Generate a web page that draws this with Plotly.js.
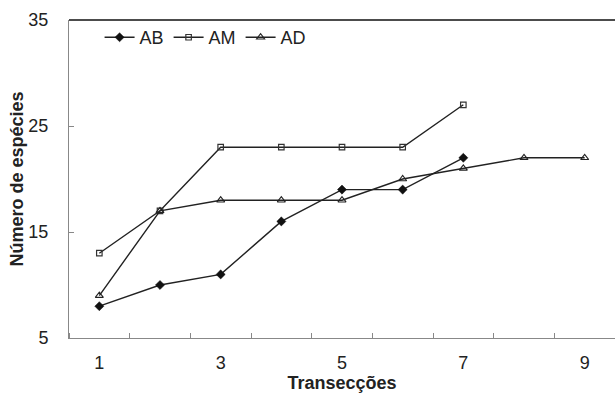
<!DOCTYPE html>
<html>
<head>
<meta charset="utf-8">
<script src="https://cdn.plot.ly/plotly-3.0.1.min.js"></script>
<style>html,body{margin:0;padding:0;background:#fff;}#chart{width:615px;height:395px;}</style>
</head>
<body>
<div id="chart"></div>
<script>
var transects = [1, 2, 3, 4, 5, 6, 7, 8, 9];
var seriesAB = [8, 10, 11, 16, 19, 19, 22];
var seriesAM = [13, 17, 23, 23, 23, 23, 27];
var seriesAD = [9, 17, 18, 18, 18, 20, 21, 22, 22];
var xTickVals = [1, 3, 5, 7, 9];
var yTickVals = [5, 15, 25, 35];

var lineColor = '#222222';
var traces = [
  {x: transects.slice(0, seriesAB.length), y: seriesAB, name: 'AB', mode: 'lines+markers',
   line: {color: lineColor, width: 1.4},
   marker: {symbol: 'diamond', size: 7, color: '#111111', line: {color: '#111111', width: 0.5}}},
  {x: transects.slice(0, seriesAM.length), y: seriesAM, name: 'AM', mode: 'lines+markers',
   line: {color: lineColor, width: 1.4},
   marker: {symbol: 'square-open', size: 5.5, color: '#333333', line: {width: 1.2}}},
  {x: transects.slice(0, seriesAD.length), y: seriesAD, name: 'AD', mode: 'lines+markers',
   line: {color: lineColor, width: 1.4},
   marker: {symbol: 'triangle-up-open', size: 7, color: '#222222', line: {width: 1.1}}}
];

var layout = {
  width: 615, height: 395,
  margin: {l: 69, r: 0, t: 20, b: 57},
  paper_bgcolor: '#fff', plot_bgcolor: '#fff',
  font: {family: 'Liberation Sans, Arial, sans-serif', color: '#222', size: 18},
  showlegend: true,
  legend: {orientation: 'h', x: 0.056, y: 1.003, xanchor: 'left', yanchor: 'top',
           font: {size: 18, color: '#222'}, bgcolor: 'rgba(0,0,0,0)', itemwidth: 30,
           tracegroupgap: 0},
  xaxis: {range: [0.5, 9.5], tickvals: xTickVals, ticktext: xTickVals.map(String),
          ticks: '', showgrid: false, zeroline: false, showline: true, linecolor: '#888', linewidth: 1,
          tickfont: {size: 18, color: '#222'}, ticklabelstandoff: 8,
          minor: {tick0: 0.5, dtick: 1, ticks: 'inside', ticklen: 5, tickcolor: '#888', showgrid: false},
          title: {text: '<b>Transecções</b>', font: {size: 18, color: '#222'}, standoff: 3}},
  yaxis: {range: [5, 35], tickvals: yTickVals, ticks: 'inside', ticklen: 5, tickcolor: '#888',
          showgrid: false, zeroline: false, showline: true, linecolor: '#888', linewidth: 1,
          tickfont: {size: 18, color: '#222'}, ticklabelstandoff: 16,
          title: {text: '<b>Número de espécies</b>', font: {size: 18, color: '#222'}, standoff: 0}},
  shapes: [{type: 'line', xref: 'paper', yref: 'paper', x0: 0, x1: 1, y0: 1, y1: 1,
            line: {color: '#111', width: 1.5}}]
};

Plotly.newPlot('chart', traces, layout, {displayModeBar: false, staticPlot: true});
</script>
</body>
</html>
